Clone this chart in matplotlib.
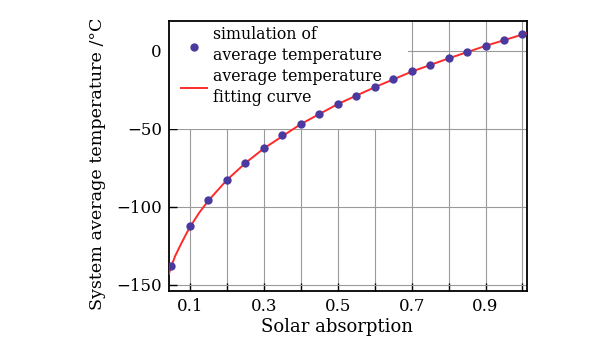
import matplotlib

matplotlib.use("Agg")
import matplotlib.pyplot as plt
from matplotlib.patches import Rectangle
from matplotlib.ticker import MultipleLocator

# simulated average temperature vs solar absorption
absorp = [0.05, 0.10, 0.15, 0.20, 0.25, 0.30, 0.35, 0.40, 0.45, 0.50,
          0.55, 0.60, 0.65, 0.70, 0.75, 0.80, 0.85, 0.90, 0.95, 1.00]
temp_sim = [-137.7, -112.5, -95.8, -82.6, -71.8, -62.5, -54.2, -46.8, -40.5, -34.1,
            -28.8, -23.3, -18.0, -13.3, -9.1, -4.9, -1.1, 3.2, 7.0, 10.4]

# fitting curve, sampled from the figure (denser where it bends)
fit_x = [0.043, 0.05, 0.06, 0.075, 0.09, 0.10, 0.125, 0.15, 0.20, 0.25, 0.30,
         0.40, 0.50, 0.60, 0.70, 0.80, 0.90, 1.00, 1.012]
fit_y = [-143.0, -137.7, -131.5, -124.2, -117.3, -113.0, -103.8, -96.0, -82.8, -72.0,
         -62.6, -47.0, -34.2, -23.4, -13.4, -4.9, 3.1, 10.4, 11.2]

C_DOT = "#4a3aa0"
C_FIT = "#ff2a2a"

plt.rcParams.update({
    "font.family": "DejaVu Serif",
    "font.size": 12,
})

fig = plt.figure(figsize=(6.12, 3.4), dpi=100)
ax = fig.add_axes([0.276, 0.144, 0.585, 0.794])

ax.plot(fit_x, fit_y, "-", color=C_FIT, lw=1.4, zorder=3,
        label="average temperature\nfitting curve")
ax.scatter(absorp, temp_sim, s=36, color=C_DOT, zorder=4, linewidths=0,
           label="simulation of\naverage temperature")

ax.set_xlim(0.043, 1.012)
ax.set_ylim(-154, 19)
ax.xaxis.set_minor_locator(MultipleLocator(0.1))
ax.set_xticks([0.1, 0.3, 0.5, 0.7, 0.9])
ax.set_xticklabels(["0.1", "0.3", "0.5", "0.7", "0.9"])
ax.set_yticks([0, -50, -100, -150])
ax.set_yticklabels(["0", "\u221250", "\u2212100", "\u2212150"])
ax.grid(True, which="both", color="#9a9a9a", lw=0.8)
ax.set_axisbelow(True)
ax.tick_params(which="both", direction="in", length=6, width=1.0, pad=5,
               labelsize=12, top=False, right=False)
for sp in ax.spines.values():
    sp.set_linewidth(1.3)

ax.set_xlabel("Solar absorption", fontsize=13)
ax.xaxis.set_label_coords(0.47, -0.1)
ax.set_ylabel("System average temperature /\u00b0C", fontsize=12.6)
ax.yaxis.set_label_coords(-0.175, 0.47)

# white patch behind the legend hides the grid there (as in the original)
ax.add_patch(Rectangle((0, 0.601), 0.668, 0.399, transform=ax.transAxes,
                       facecolor="white", edgecolor="none", zorder=1))

h, l = ax.get_legend_handles_labels()
leg = ax.legend(h[::-1], l[::-1], loc="upper left", bbox_to_anchor=(0.02, 1.0),
                frameon=False, fontsize=11.3, borderaxespad=0, borderpad=0.3,
                handlelength=1.7, handletextpad=0.35, labelspacing=0.3)
for t in leg.get_texts():
    t.set_linespacing(1.3)
leg.set_zorder(5)

fig.savefig("out.png", dpi=100)
